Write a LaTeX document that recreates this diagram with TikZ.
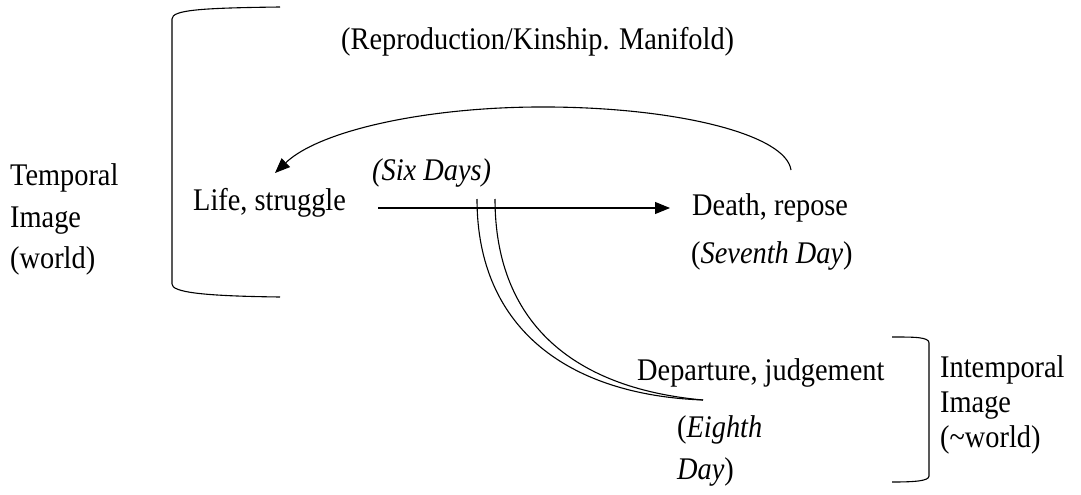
\documentclass[tikz,border=0pt]{standalone}
\usepackage{fontspec}
\setmainfont{Liberation Serif}[FakeStretch=0.9]
\usetikzlibrary{arrows.meta}
\tikzset{
  txt/.style={anchor=base west, inner sep=0pt, font=\fontsize{31.5}{36}\selectfont},
  ln/.style={line width=1.1pt},
  tip/.style={-{Triangle[length=15pt,width=12pt]}}
}
\begin{document}
\begin{tikzpicture}[x=1pt,y=-1pt]
\useasboundingbox (0,0) rectangle (1081,495);
% texts
\node[txt] (title) at (341,49) {(Reproduction/Kinship. Manifold)};
\node[txt] (temp1) at (10,185) {Temporal};
\node[txt] (temp2) at (10,227) {Image};
\node[txt] (temp3) at (10,268) {(world)};
\node[txt] (life) at (193,210) {Life, struggle};
\node[txt] (six) at (372,180) {\itshape (Six Days)};
\node[txt] (death) at (692,215) {Death, repose};
\node[txt] (seventh) at (691,263) {(\textit{Seventh Day})};
\node[txt] (depart) at (637,380) {Departure, judgement};
\node[txt] (eighth1) at (677,437) {(\textit{Eighth}};
\node[txt] (eighth2) at (677,479) {\textit{Day})};
\node[txt] (int1) at (940,377) {Intemporal};
\node[txt] (int2) at (940,412) {Image};
\node[txt] (int3) at (940,447) {(\textasciitilde world)};
% connector coordinates
\coordinate (a0) at (378,208);
\coordinate (a1) at (670,208);
\coordinate (b0) at (791,170);
\coordinate (b1) at (275,173);
\coordinate (c0) at (477,199);
\coordinate (c1) at (495,199);
\coordinate (cend) at (703,400);
% main arrow
\draw[ln,tip] (a0) -- (a1);
% top return arc
\draw[ln,tip] (b0) .. controls (786,135) and (680,108) .. (550,107)
   .. controls (430,106) and (320,130) .. (b1);
% double curve to departure
\draw[ln] (c0) .. controls (477,330) and (570,395) .. (cend);
\draw[ln] (c1) .. controls (495,320) and (570,388) .. (cend);
% left bracket
\draw[ln] (280,7) .. controls (200,8) and (172,10) .. (172,19) -- (172,284)
   .. controls (172,292) and (200,296) .. (280,297);
% right bracket
\draw[ln] (892,337) .. controls (915,337) and (929,337) .. (929,343) -- (929,476)
   .. controls (929,481) and (915,482) .. (892,482);
\end{tikzpicture}
\end{document}
